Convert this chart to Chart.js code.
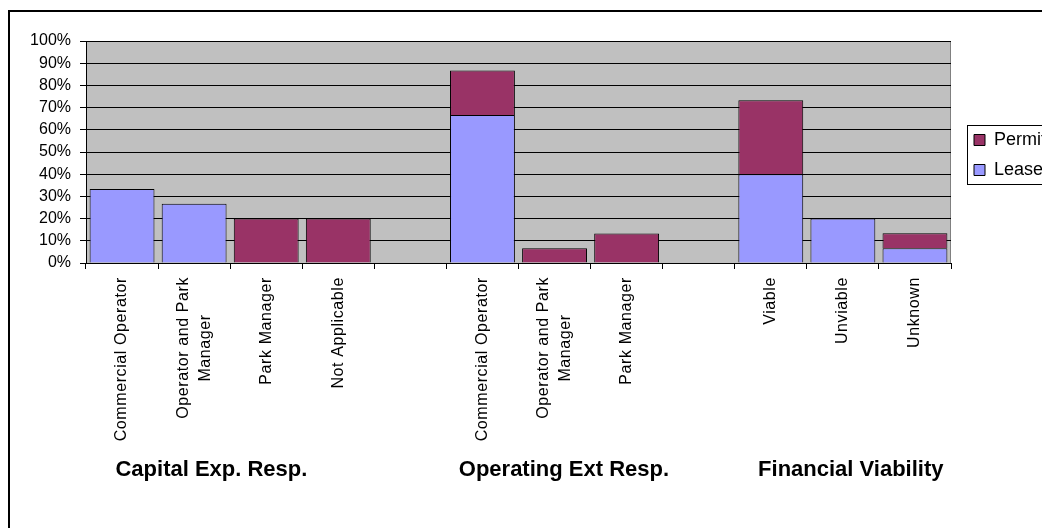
<!DOCTYPE html>
<html lang="en">
<head>
<meta charset="UTF-8">
<title>Lease and permit responses</title>
<script src="https://cdn.jsdelivr.net/npm/chart.js@4.4.1/dist/chart.umd.min.js"></script>
<style>
  body { margin: 0; background: #fff; overflow: hidden; }
  #wrap { width: 1042px; height: 528px; }
</style>
</head>
<body>
<div id="wrap"><canvas id="myChart" width="1042" height="528"></canvas></div>
<script>
// categories, with an empty slot between the three groups
const categories = [
  'Commercial Operator', ['Operator and Park', 'Manager'], 'Park Manager', 'Not Applicable',
  '',
  'Commercial Operator', ['Operator and Park', 'Manager'], 'Park Manager',
  '',
  'Viable', 'Unviable', 'Unknown'
];
const leaseValues  = [33.3, 26.7, 0, 0, null, 66.7, 0, 0, null, 40, 20, 6.7];
const permitValues = [0, 0, 20, 20, null, 20, 6.7, 13.3, null, 33.3, 0, 6.7];
const yTickValues = [0, 10, 20, 30, 40, 50, 60, 70, 80, 90, 100];

const groupTitles = ['Capital Exp. Resp.', 'Operating Ext Resp.', 'Financial Viability'];
// centre of each group title, in category units along the x axis
const groupTitleAt = [1.24, 6.13, 10.11];

const FONT = "'Liberation Sans', Arial, sans-serif";

const decor = {
  id: 'decor',
  afterLayout(chart) {
    // push the legend a little away from the plot
    const lg = chart.legend;
    lg.left += 11;
    lg.right += 11;
  },
  beforeDraw(chart) {
    const ctx = chart.ctx;
    const a = chart.chartArea;
    ctx.save();
    ctx.fillStyle = '#c0c0c0';
    ctx.fillRect(a.left, a.top, a.right - a.left, a.bottom - a.top);
    ctx.strokeStyle = '#808080';
    ctx.lineWidth = 1;
    ctx.strokeRect(a.left + 0.5, a.top + 0.5, a.right - a.left - 1, a.bottom - a.top);
    // outer frame
    ctx.strokeStyle = '#000';
    ctx.lineWidth = 2;
    ctx.strokeRect(9, 11, chart.width + 40, chart.height + 40);
    ctx.restore();
  },
  afterDraw(chart) {
    const ctx = chart.ctx;
    const a = chart.chartArea;
    const x = chart.scales.x;
    ctx.save();

    // category labels, turned to read upwards, lines centred on each other
    ctx.fillStyle = '#000';
    ctx.font = '16px ' + FONT;
    ctx.letterSpacing = '0.6px';
    ctx.textAlign = 'center';
    ctx.textBaseline = 'middle';
    const lineH = 22;
    categories.forEach((lab, i) => {
      const lines = Array.isArray(lab) ? lab : [lab];
      if (!lines[0]) return;
      const w = Math.max(...lines.map(l => ctx.measureText(l).width));
      ctx.save();
      ctx.translate(x.getPixelForValue(i), a.bottom + 14);
      ctx.rotate(-Math.PI / 2);
      lines.forEach((l, k) => {
        ctx.fillText(l, -w / 2, (k - (lines.length - 1) / 2) * lineH);
      });
      ctx.restore();
    });

    // group titles
    ctx.font = 'bold 22px ' + FONT;
    ctx.letterSpacing = '0px';
    ctx.textBaseline = 'alphabetic';
    groupTitles.forEach((t, i) => {
      ctx.fillText(t, x.getPixelForValue(groupTitleAt[i]), a.bottom + 213);
    });

    // legend frame
    const lg = chart.legend;
    const boxes = lg.legendHitBoxes;
    const top = Math.min(...boxes.map(b => b.top)) - 6;
    const bottom = Math.max(...boxes.map(b => b.top + b.height)) + 5;
    ctx.strokeStyle = '#000';
    ctx.lineWidth = 1;
    ctx.strokeRect(lg.left + 5.5, top + 0.5, lg.right - lg.left + 20, bottom - top);
    ctx.restore();
  }
};

const myChart = new Chart(document.getElementById('myChart'), {
  type: 'bar',
  data: {
    labels: categories,
    datasets: [
      {
        label: 'Lease',
        data: leaseValues,
        backgroundColor: '#9999ff',
        borderColor: '#000',
        borderWidth: 1
      },
      {
        label: 'Permit',
        data: permitValues,
        backgroundColor: '#993366',
        borderColor: '#000',
        borderWidth: 1
      }
    ]
  },
  options: {
    responsive: false,
    animation: false,
    devicePixelRatio: 1,
    layout: { padding: { left: 0, top: 41, right: 0, bottom: 259 } },
    datasets: { bar: { barPercentage: 0.9, categoryPercentage: 1 } },
    scales: {
      x: {
        stacked: true,
        offset: true,
        grid: { offset: true, drawOnChartArea: false, color: '#000', tickLength: 6 },
        border: { color: '#000' },
        ticks: { display: false }
      },
      y: {
        stacked: true,
        min: 0,
        max: 100,
        afterFit(scale) { scale.width = 86; },
        afterBuildTicks(scale) { scale.ticks = yTickValues.map(v => ({ value: v })); },
        grid: { color: '#000', tickLength: 6 },
        border: { color: '#000' },
        ticks: {
          color: '#000',
          padding: 9,
          font: { family: FONT, size: 16 },
          callback: v => v + '%'
        }
      }
    },
    plugins: {
      legend: {
        position: 'right',
        reverse: true,
        maxWidth: 91,
        labels: {
          color: '#000',
          boxWidth: 11,
          boxHeight: 11,
          padding: 12,
          font: { family: FONT, size: 18 }
        }
      },
      tooltip: { enabled: false }
    }
  },
  plugins: [decor]
});
</script>
</body>
</html>
